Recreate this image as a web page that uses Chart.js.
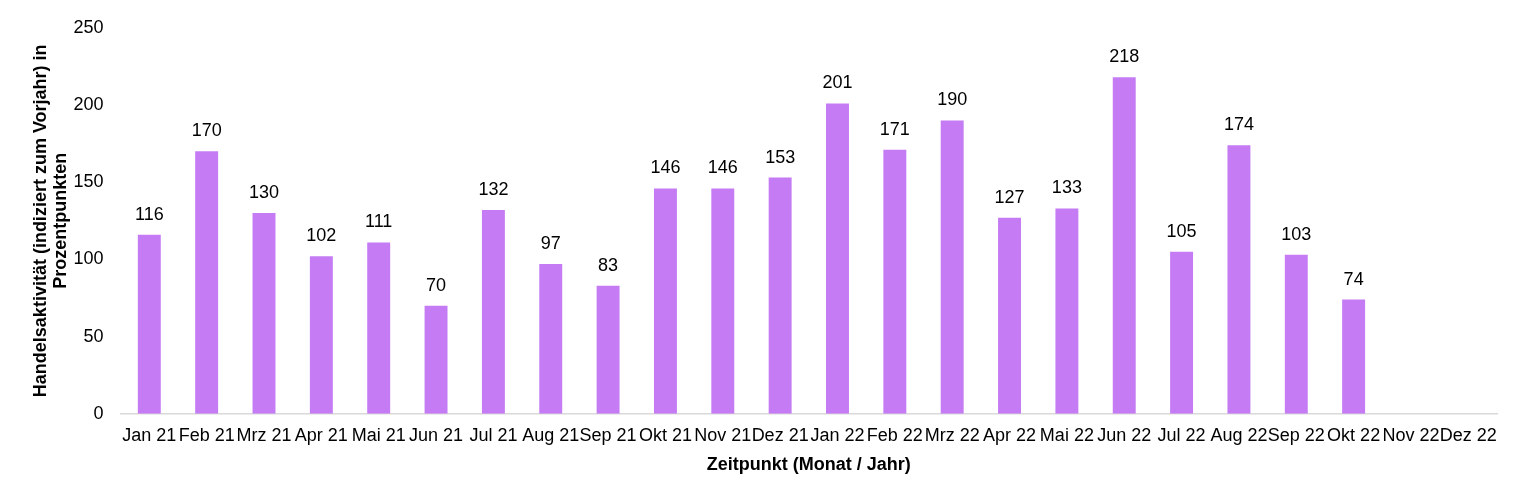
<!DOCTYPE html>
<html>
<head>
<meta charset="utf-8">
<script src="https://cdn.jsdelivr.net/npm/chart.js@4"></script>
<style>
  html, body { margin: 0; padding: 0; background: #fff; }
  .wrap { width: 1522px; height: 500px; }
</style>
</head>
<body>
<div class="wrap"><canvas id="chart"></canvas></div>
<script>
// ── Data ──────────────────────────────────────────────────
const months = [
  'Jan 21', 'Feb 21', 'Mrz 21', 'Apr 21', 'Mai 21', 'Jun 21', 'Jul 21', 'Aug 21',
  'Sep 21', 'Okt 21', 'Nov 21', 'Dez 21', 'Jan 22', 'Feb 22', 'Mrz 22', 'Apr 22',
  'Mai 22', 'Jun 22', 'Jul 22', 'Aug 22', 'Sep 22', 'Okt 22', 'Nov 22', 'Dez 22'
];
const activity = [
  116, 170, 130, 102, 111, 70, 132, 97, 83, 146, 146, 153,
  201, 171, 190, 127, 133, 218, 105, 174, 103, 74, null, null
];
const yTicks = [0, 50, 100, 150, 200, 250];

const FONT = 'Liberation Sans, Arial, sans-serif';

// ── Value labels above bars ───────────────────────────────
const valueLabels = {
  id: 'valueLabels',
  afterDatasetsDraw(chart) {
    const ctx = chart.ctx;
    const meta = chart.getDatasetMeta(0);
    ctx.save();
    ctx.fillStyle = '#000';
    ctx.font = '18px ' + FONT;
    ctx.textAlign = 'center';
    ctx.textBaseline = 'middle';
    meta.data.forEach((bar, i) => {
      const v = activity[i];
      if (v == null) return;
      ctx.fillText(String(v), bar.x, bar.y - 20);
    });
    ctx.restore();
  }
};

// ── Chart ─────────────────────────────────────────────────
new Chart(document.getElementById('chart').getContext('2d'), {
  type: 'bar',
  data: {
    labels: months,
    datasets: [{
      data: activity,
      backgroundColor: '#C47BF3',
      borderWidth: 0,
      barPercentage: 0.4,
      categoryPercentage: 1
    }]
  },
  options: {
    responsive: true,
    maintainAspectRatio: false,
    animation: false,
    layout: { padding: { top: 12, right: 25, bottom: 24, left: 30 } },
    plugins: {
      legend: { display: false },
      tooltip: { enabled: false }
    },
    scales: {
      x: {
        grid: { display: false, drawTicks: false },
        border: { display: true, color: '#d9d9d9', width: 1.5 },
        ticks: {
          color: '#000', font: { family: FONT, size: 18 },
          maxRotation: 0, minRotation: 0, autoSkip: false, padding: 11
        },
        title: {
          display: true, text: 'Zeitpunkt (Monat / Jahr)', color: '#000',
          font: { family: FONT, size: 18, weight: 'bold' }, padding: { top: -3, bottom: 0 }
        }
      },
      y: {
        min: 0, max: 250,
        afterBuildTicks: (axis) => { axis.ticks = yTicks.map(v => ({ value: v })); },
        afterFit: (axis) => { axis.width -= 17; },
        grid: { display: false, drawTicks: false },
        border: { display: false },
        ticks: { color: '#000', font: { family: FONT, size: 18 }, padding: 17 },
        title: {
          display: true,
          text: ['Handelsaktivität (indiziert zum Vorjahr) in', 'Prozentpunkten'],
          color: '#000', font: { family: FONT, size: 18, weight: 'bold', lineHeight: 1.1 },
          padding: { top: 1, bottom: 3 }
        }
      }
    }
  },
  plugins: [valueLabels]
});
</script>
</body>
</html>
